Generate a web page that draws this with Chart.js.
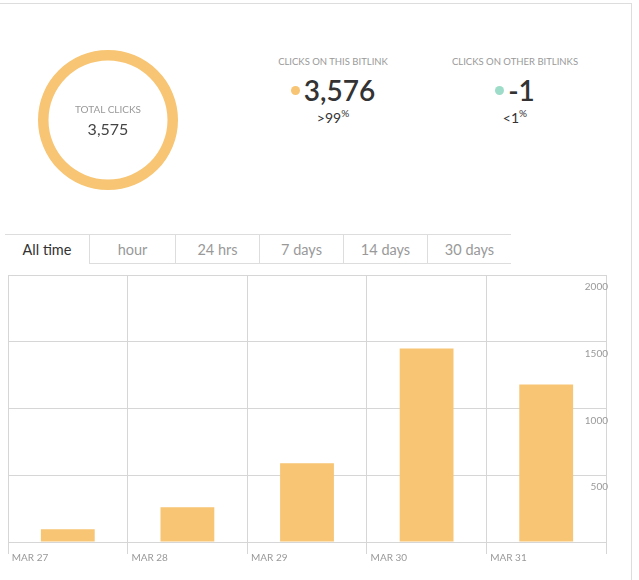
<!DOCTYPE html>
<html>
<head>
<meta charset="utf-8">
<script src="https://cdn.jsdelivr.net/npm/chart.js@4"></script>
<style>
  body { margin: 0; background: #fff; font-family: Lato, sans-serif; width: 639px; height: 580px; overflow: hidden; position: relative; }
  .frame { position: absolute; left: 0; top: 3px; width: 632px; height: 577px; border-top: 1px solid #ddd; border-right: 1px solid #ddd; box-sizing: border-box; }
  #donut-wrap { position: absolute; left: 38px; top: 50px; width: 140px; height: 140px; }
  .donut-text { position: absolute; left: 38px; top: 50px; width: 140px; height: 140px; display: flex; flex-direction: column; align-items: center; justify-content: center; }
  .donut-text .lbl { font-size: 10px; color: #999; }
  .donut-text .val { font-size: 16px; color: #444; margin-top: 4px; }
  .stat { position: absolute; top: 56px; width: 180px; text-align: center; }
  .stat .lbl { font-size: 9.5px; color: #999; }
  .stat .val { font-size: 28px; font-weight: 600; color: #333; margin-top: 6px; }
  .stat .dot { display: inline-block; width: 9px; height: 9px; border-radius: 50%; vertical-align: middle; margin-right: 4px; position: relative; top: -3px; }
  .stat .pct { font-size: 14px; color: #333; margin-top: 0px; }
  .stat .pct sup { font-size: 10px; }
  .tabs { position: absolute; left: 5px; top: 234px; display: flex; }
  .tab { width: 84px; height: 30px; line-height: 30px; text-align: center; font-size: 14.5px; color: #999; border-top: 1px solid #ddd; border-bottom: 1px solid #ddd; border-left: 1px solid #ddd; box-sizing: border-box; }
  .tab.active { color: #333; border-bottom: none; border-left: none; }
  .tab:nth-child(2) { width: 86px; }
  #bar-wrap { position: absolute; left: 0; top: 266px; width: 632px; height: 296px; }
</style>
</head>
<body>
<div class="frame"></div>
<div id="donut-wrap"><canvas id="donutChart"></canvas></div>
<div class="donut-text"><div class="lbl">TOTAL CLICKS</div><div class="val">3,575</div></div>

<div class="stat" style="left:243px">
  <div class="lbl">CLICKS ON THIS BITLINK</div>
  <div class="val"><span class="dot" style="background:#f7c573"></span>3,576</div>
  <div class="pct">&gt;99<sup>%</sup></div>
</div>
<div class="stat" style="left:425px">
  <div class="lbl">CLICKS ON OTHER BITLINKS</div>
  <div class="val"><span class="dot" style="background:#9ddcc8"></span>-1</div>
  <div class="pct">&lt;1<sup>%</sup></div>
</div>

<div class="tabs">
  <div class="tab active">All time</div>
  <div class="tab">hour</div>
  <div class="tab">24 hrs</div>
  <div class="tab">7 days</div>
  <div class="tab">14 days</div>
  <div class="tab">30 days</div>
</div>

<div id="bar-wrap"><canvas id="clicksChart"></canvas></div>

<script>
const days = ['MAR 27', 'MAR 28', 'MAR 29', 'MAR 30', 'MAR 31'];
const clicks = [95, 260, 590, 1450, 1180];
const yTicks = [0, 500, 1000, 1500, 2000];
const totalClicks = [3575];

const orange = '#f7c573';

new Chart(document.getElementById('donutChart'), {
  type: 'doughnut',
  data: { datasets: [{ data: totalClicks, backgroundColor: [orange], borderWidth: 0 }] },
  options: {
    responsive: true, maintainAspectRatio: false, animation: false, cutout: '85%',
    plugins: { legend: { display: false }, tooltip: { enabled: false } }
  }
});

new Chart(document.getElementById('clicksChart'), {
  type: 'bar',
  data: {
    labels: days,
    datasets: [{ data: clicks, backgroundColor: orange, borderWidth: 0, categoryPercentage: 0.9, barPercentage: 0.5 }]
  },
  options: {
    responsive: true, maintainAspectRatio: false, animation: false,
    layout: { padding: { left: 8, right: 22, top: 9, bottom: 0 } },
    plugins: { legend: { display: false }, tooltip: { enabled: false } },
    scales: {
      x: {
        grid: { color: '#d6d6d6', offset: true, tickLength: 12, drawTicks: true },
        border: { display: false },
        ticks: { align: 'start', labelOffset: -56, padding: -2, color: '#999', font: { family: 'Lato', size: 10 } }
      },
      y: {
        position: 'right', min: 0, max: 2000,
        afterBuildTicks: axis => { axis.ticks = yTicks.map(v => ({ value: v })); },
        grid: { color: '#d6d6d6', drawTicks: false },
        border: { display: false },
        ticks: {
          mirror: true, labelOffset: 12, padding: 2, color: '#999', font: { family: 'Lato', size: 10 },
          callback: v => v === 0 ? '' : v
        }
      }
    }
  }
});
</script>
</body>
</html>
